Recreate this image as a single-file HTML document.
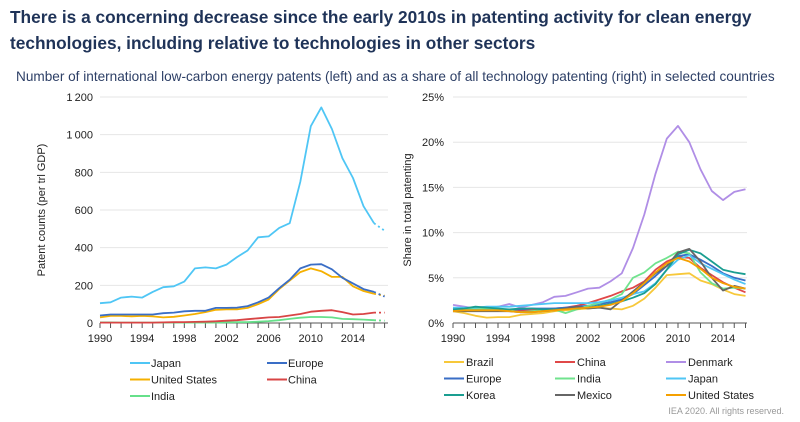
<!DOCTYPE html>
<html><head><meta charset="utf-8"><style>
body{margin:0;background:#fff;font-family:"Liberation Sans",sans-serif;}
svg{display:block}
</style></head><body>
<svg id="s" width="800" height="422" xmlns="http://www.w3.org/2000/svg" font-family="Liberation Sans, sans-serif">
<text x="10" y="23" font-size="17.3" fill="#1f3358" font-weight="bold">There is a concerning decrease since the early 2010s in patenting activity for clean energy</text>
<text x="10" y="49" font-size="17.3" fill="#1f3358" font-weight="bold">technologies, including relative to technologies in other sectors</text>
<text x="16" y="81" font-size="13.6" fill="#2d3f66">Number of international low-carbon energy patents (left) and as a share of all technology patenting (right) in selected countries</text>
<text x="784" y="414" font-size="9" fill="#999" text-anchor="end">IEA 2020. All rights reserved.</text>
<g id="g"></g>
</svg>
<script>
var g=document.getElementById('g'),h='';
function L(x1,y1,x2,y2,c,w,d){h+='<line x1="'+x1+'" y1="'+y1+'" x2="'+x2+'" y2="'+y2+'" stroke="'+c+'" stroke-width="'+w+'"'+(d?' stroke-dasharray="'+d+'"':'')+'/>';}
function T(x,y,t,s,a,c){h+='<text x="'+x+'" y="'+y+'" font-size="'+s+'" fill="'+(c||'#222')+'"'+(a?' text-anchor="'+a+'"':'')+'>'+t+'</text>';}
function P(pts,c,w,d){h+='<polyline fill="none" stroke="'+c+'" stroke-width="'+w+'" stroke-linejoin="round"'+(d?' stroke-dasharray="'+d+'"':'')+' points="'+pts.map(p=>p[0].toFixed(1)+','+p[1].toFixed(1)).join(' ')+'"/>';}
var lx=y=>100+(y-1990)*10.54, ly=v=>323-v*226/1200;
for(var v=200;v<=1200;v+=200){L(100,ly(v),388,ly(v),'#e6e6e6',1);}
for(var v=0;v<=1200;v+=200)T(93,ly(v)+4,v>=1000?(v/1000|0)+'\u2009'+String(v%1000).padStart(3,'0'):v,11,'end');
L(100,323,388,323,'#555',1);
for(var y=1990;y<=2017;y++)L(lx(y),323,lx(y),328,'#555',1);
for(var y=1990;y<=2014;y+=4)T(lx(y),342,y,11,'middle');
h+='<text transform="translate(45,210) rotate(-90)" font-size="11" text-anchor="middle" fill="#222">Patent counts (per trl GDP)</text>';
var LS=[
['#4fc6f5',[105,110,135,140,135,165,190,195,220,290,295,290,310,350,385,455,460,505,530,750,1045,1145,1030,875,770,620,530],490],
['#3a6ec6',[40,45,45,45,45,45,52,55,62,65,65,80,80,82,90,110,135,185,230,290,310,312,285,240,210,180,165],140],
['#f5b000',[30,38,38,35,38,35,30,33,40,48,58,70,72,72,80,100,125,180,225,270,290,275,245,245,195,170,155],145],
['#d84545',[2,2,2,2,2,2,3,4,5,6,7,9,12,15,20,25,30,32,40,48,60,65,68,58,45,48,55],55],
['#66e08a',[3,3,2,2,2,2,2,2,2,2,2,2,3,4,5,7,10,15,22,28,32,32,30,22,20,18,15],12]];
LS.slice().reverse().forEach(s=>{P(s[1].map((v,i)=>[lx(1990+i),ly(v)]),s[0],1.8);P([[lx(2016),ly(s[1][26])],[lx(2017),ly(s[2])]],s[0],1.8,'2,3');});
var ll=[['Japan',0,0],['Europe',1,0],['United States',0,1],['China',1,1],['India',0,2]];
ll.forEach((e,i)=>{var x=130+e[1]*137,y=363+e[2]*16.5;L(x,y,x+20,y,LS[i][0],2);T(x+21,y+4,e[0],11);});
var rx=y=>453+(y-1990)*11.25, ry=v=>323-v*226/25;
for(var v=5;v<=25;v+=5)L(453,ry(v),747,ry(v),'#e6e6e6',1);
for(var v=0;v<=25;v+=5)T(444,ry(v)+4,v+'%',11,'end');
L(453,323,747,323,'#555',1);
for(var y=1990;y<=2016;y++)L(rx(y),323,rx(y),328,'#555',1);
for(var y=1990;y<=2014;y+=4)T(rx(y),342,y,11,'middle');
h+='<text transform="translate(411,210) rotate(-90)" font-size="11" text-anchor="middle" fill="#222">Share in total patenting</text>';
var RS=[
['Brazil','#f7c83a',[1.3,1.1,0.8,0.6,0.65,0.65,0.9,1,1.1,1.3,1.4,1.5,1.6,1.7,1.6,1.5,1.9,2.7,3.9,5.3,5.4,5.5,4.7,4.3,3.7,3.2,3]],
['China','#e04848',[1.5,1.5,1.5,1.5,1.5,1.4,1.4,1.4,1.5,1.6,1.7,1.9,2.2,2.6,3,3.5,3.9,4.6,5.9,6.8,7.3,7.2,6.1,5.3,4.5,3.9,3.4]],
['Denmark','#b08ee6',[2,1.8,1.6,1.6,1.8,2.1,1.7,2,2.3,2.9,3,3.4,3.8,3.9,4.6,5.5,8.3,12,16.5,20.4,21.8,20,17,14.6,13.6,14.5,14.8]],
['Europe','#3a6ec6',[1.5,1.5,1.5,1.5,1.5,1.5,1.5,1.6,1.6,1.6,1.7,1.8,1.9,2.1,2.3,2.6,3.2,4.2,5.2,6.3,7.4,7.6,7,6.3,5.5,5,4.7]],
['India','#70e38e',[1.5,1.6,1.6,1.6,1.6,1.4,1.2,1.3,1.4,1.5,1.1,1.5,1.9,2.2,2.6,3.2,5,5.6,6.6,7.2,7.9,7.7,5.6,4.4,3.8,3.9,3.8]],
['Japan','#4fc6f5',[1.7,1.7,1.7,1.8,1.8,1.8,1.9,2,2.1,2.2,2.2,2.2,2.2,2.3,2.5,2.8,3.2,3.5,4.4,5.9,7,7.5,6.6,6,5.4,4.8,4.3]],
['Korea','#1a9e91',[1.5,1.6,1.8,1.7,1.6,1.5,1.6,1.6,1.5,1.5,1.6,1.6,1.7,1.9,2.1,2.4,2.8,3.3,4.3,5.9,7.6,8.1,7.7,6.8,5.9,5.6,5.4]],
['Mexico','#666666',[1.3,1.3,1.3,1.3,1.3,1.3,1.2,1.2,1.3,1.4,1.6,1.8,1.6,1.7,1.5,2.5,3.5,4.5,5.5,6.3,7.8,8.2,6.8,5,3.6,4.1,3.8]],
['United States','#f5a000',[1.3,1.4,1.4,1.4,1.4,1.3,1.2,1.2,1.3,1.4,1.5,1.6,1.7,1.8,2,2.4,3.3,4.4,5.6,6.6,7.2,6.8,6,5,4.4,4,3.8]]];
RS.forEach(s=>P(s[2].map((v,i)=>[rx(1990+i),ry(v)]),s[1],1.8));
RS.forEach((s,i)=>{var x=444+(i%3)*111,y=362+Math.floor(i/3)*16.5;L(x,y,x+20,y,s[1],2);T(x+22,y+4,s[0],11);});
g.innerHTML=h;
</script>
</body></html>
